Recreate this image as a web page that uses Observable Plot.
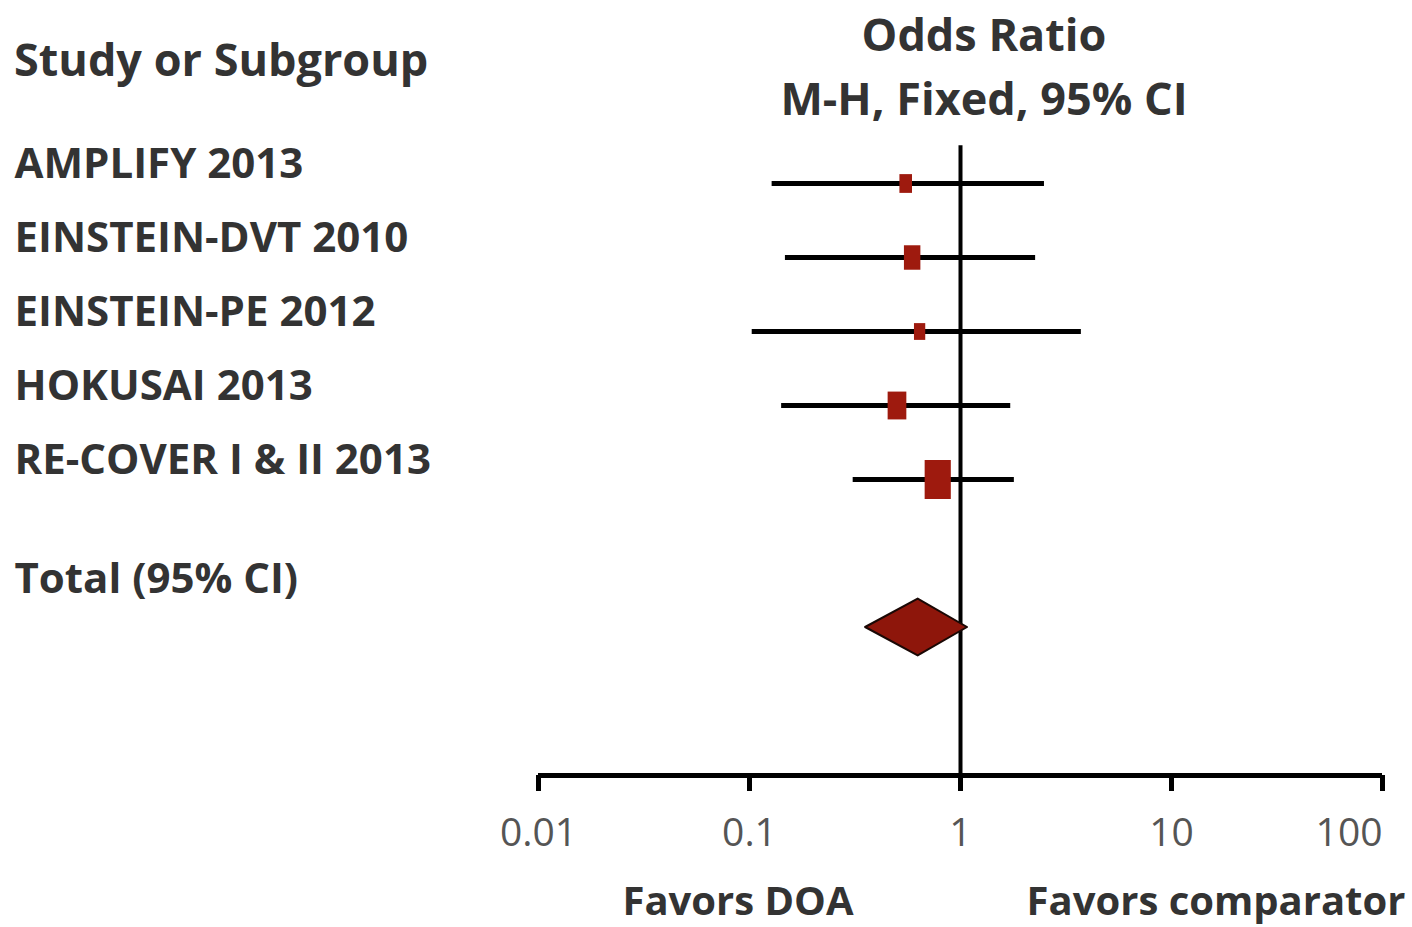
<!DOCTYPE html>
<html><head><meta charset="utf-8">
<script src="https://cdn.jsdelivr.net/npm/d3@7"></script>
<script src="https://cdn.jsdelivr.net/npm/@observablehq/plot@0.6"></script>
<style>
body{margin:0;background:#fff;}
#wrap{position:relative;width:1412px;height:927px;font-family:"Open Sans",sans-serif;color:#333;}
#wrap svg{position:absolute;left:0;top:0;}
.t{position:absolute;font-weight:700;white-space:nowrap;line-height:1;}
.c{transform:translateX(-50%);text-align:center;}
</style></head><body>
<div id="wrap">
  <div class="t" style="left:14px;top:36px;font-size:45px;">Study or Subgroup</div>
  <div class="t c" style="left:984px;top:2px;font-size:45px;line-height:64px;">Odds Ratio<br>M-H, Fixed, 95% CI</div>
  <div class="t c" style="left:738px;top:880px;font-size:40px;">Favors DOA</div>
  <div class="t c" style="left:1216px;top:880px;font-size:40px;">Favors comparator</div>
</div>
<script>
const studies = ["AMPLIFY 2013","EINSTEIN-DVT 2010","EINSTEIN-PE 2012","HOKUSAI 2013","RE-COVER I & II 2013"];
const oddsRatio = [0.55, 0.59, 0.64, 0.50, 0.78];
const ciLow = [0.128, 0.148, 0.103, 0.142, 0.31];
const ciHigh = [2.50, 2.27, 3.74, 1.73, 1.80];
const weight = [10, 17, 8, 22, 43];
const totalLabel = "Total (95% CI)";
const totalOR = 0.63, totalLow = 0.355, totalHigh = 1.08;
const xTicks = [0.01, 0.1, 1, 10, 100];
const xTickLabels = ["0.01", "0.1", "1", "10", "100"];

const rows = studies.map((s, i) => ({study: s, or: oddsRatio[i], low: ciLow[i], high: ciHigh[i], w: weight[i], row: i}));
const last = xTicks.length - 1;
const ticks = xTicks.map((v, i) => ({v, label: xTickLabels[i], anchor: i === last ? "end" : "middle"}));
const totalRow = studies.length + 1;
const axisRow = totalRow + 2;
const half = 0.385;
const diamond = [
  {x: totalLow, y1: totalRow, y2: totalRow},
  {x: totalOR, y1: totalRow - half, y2: totalRow + half},
  {x: totalHigh, y1: totalRow, y2: totalRow}
];
const rectSymbol = {draw(ctx, size) { const s = Math.sqrt(size); const w = s * 0.82, h = s * 1.22; ctx.rect(-w / 2, -h / 2, w, h); }};
const red = "#9e1a0e";
const font = "Open Sans";
const tickText = {text: "label", frameAnchor: "bottom", dy: 70, fill: "#555", fontSize: 39, fontFamily: font};

const chart = Plot.plot({
  width: 1412, height: 927,
  marginLeft: 538, marginRight: 30, marginTop: 145, marginBottom: 152,
  style: {fontFamily: font, background: "transparent"},
  x: {type: "log", domain: [xTicks[0], xTicks[last]], range: [538, 1382], axis: null},
  y: {type: "linear", domain: [0, axisRow], range: [183, 775], axis: null},
  r: {type: "sqrt", domain: [0, d3.max(weight)], range: [0, 18]},
  marks: [
    Plot.ruleY(rows, {y: "row", x1: "low", x2: "high", stroke: "#000", strokeWidth: 5}),
    Plot.dot(rows, {x: "or", y: "row", r: "w", symbol: rectSymbol, fill: red, stroke: "none"}),
    Plot.ruleX([1], {y1: -0.51, y2: axisRow, stroke: "#000", strokeWidth: 4}),
    Plot.areaY(diamond, {x: "x", y1: "y1", y2: "y2", fill: "#8e160b", stroke: "#1a0805", strokeWidth: 2}),
    Plot.ruleY([axisRow], {x1: xTicks[0], x2: xTicks[last], stroke: "#000", strokeWidth: 5}),
    Plot.axisX({ticks: xTicks, tickFormat: () => "", tickSize: 16, stroke: "#000", strokeWidth: 5}),
    Plot.text(ticks.slice(0, last), {x: "v", ...tickText}),
    Plot.text(ticks.slice(last), {x: "v", textAnchor: "end", ...tickText}),
    Plot.text(rows, {y: "row", text: "study", frameAnchor: "left", textAnchor: "start", dx: -524, dy: -19, fontSize: 42, fontWeight: 700, fill: "#333", fontFamily: font}),
    Plot.text([totalLabel], {y: totalRow, text: d => d, frameAnchor: "left", textAnchor: "start", dx: -524, dy: -48, fontSize: 42, fontWeight: 700, fill: "#333", fontFamily: font})
  ]
});
document.getElementById("wrap").prepend(chart);
</script>
</body></html>
